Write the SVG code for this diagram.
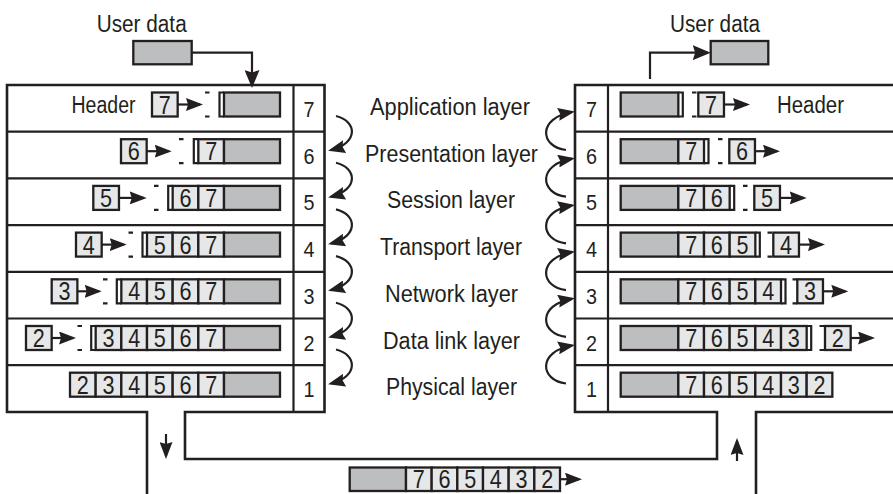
<svg xmlns="http://www.w3.org/2000/svg" width="893" height="494" viewBox="0 0 893 494">
<style>
.s{fill:none;stroke:#231f20;stroke-width:2.6}
.k{fill:none;stroke:#231f20;stroke-width:2.2}
.g{fill:#bcbec0;stroke:#231f20;stroke-width:2.3}
.l{fill:#e6e7e8;stroke:#231f20;stroke-width:2.3}
.a{fill:none;stroke:#231f20;stroke-width:2.2;marker-end:url(#ah)}
.b{fill:none;stroke:#231f20;stroke-width:2.2;marker-end:url(#ah2)}
text{font-family:"Liberation Sans",Arial,sans-serif;fill:#231f20}
.d{font-size:25px;text-anchor:middle}
.n{font-size:22.5px;text-anchor:middle}
.t{font-size:23.5px}
</style>
<defs>
<marker id="ah" viewBox="0 0 17 13" refX="14" refY="6.5" markerWidth="17" markerHeight="13" markerUnits="userSpaceOnUse" orient="auto"><path d="M0,0 L17,6.5 L0,13 L2,6.5 Z" fill="#231f20"/></marker>
<marker id="ah2" viewBox="0 0 18 15" refX="15" refY="7.5" markerWidth="18" markerHeight="15" markerUnits="userSpaceOnUse" orient="auto"><path d="M0,0 L18,7.5 L0,15 L2.5,7.5 Z" fill="#231f20"/></marker>
</defs>

<g id="frame">
<path class="s" d="M147,494 V412 H7 V85 H324.5 V412 H185 V459 H717 V412 H575 V85 H900"/>
<path class="s" d="M756,494 V412 H900"/>
<path class="k" d="M293.5,85 V412 M608,85 V412"/>
<path class="k" d="M7,131.7 H324.5 M7,178.4 H324.5 M7,225.1 H324.5 M7,271.8 H324.5 M7,318.5 H324.5 M7,365.2 H324.5"/>
<path class="k" d="M575,131.7 H900 M575,178.4 H900 M575,225.1 H900 M575,271.8 H900 M575,318.5 H900 M575,365.2 H900"/>
</g>

<g id="layer-numbers">
<text class="n" x="309" y="117" textLength="11" lengthAdjust="spacingAndGlyphs">7</text>
<text class="n" x="309" y="163.7" textLength="11" lengthAdjust="spacingAndGlyphs">6</text>
<text class="n" x="309" y="210.4" textLength="11" lengthAdjust="spacingAndGlyphs">5</text>
<text class="n" x="309" y="257.1" textLength="11" lengthAdjust="spacingAndGlyphs">4</text>
<text class="n" x="309" y="303.8" textLength="11" lengthAdjust="spacingAndGlyphs">3</text>
<text class="n" x="309" y="350.5" textLength="11" lengthAdjust="spacingAndGlyphs">2</text>
<text class="n" x="309" y="397.2" textLength="11" lengthAdjust="spacingAndGlyphs">1</text>
<text class="n" x="591.5" y="117" textLength="11" lengthAdjust="spacingAndGlyphs">7</text>
<text class="n" x="591.5" y="163.7" textLength="11" lengthAdjust="spacingAndGlyphs">6</text>
<text class="n" x="591.5" y="210.4" textLength="11" lengthAdjust="spacingAndGlyphs">5</text>
<text class="n" x="591.5" y="257.1" textLength="11" lengthAdjust="spacingAndGlyphs">4</text>
<text class="n" x="591.5" y="303.8" textLength="11" lengthAdjust="spacingAndGlyphs">3</text>
<text class="n" x="591.5" y="350.5" textLength="11" lengthAdjust="spacingAndGlyphs">2</text>
<text class="n" x="591.5" y="397.2" textLength="11" lengthAdjust="spacingAndGlyphs">1</text>
</g>

<g id="layer-labels">
<text class="t" x="370" y="115" textLength="160" lengthAdjust="spacingAndGlyphs">Application layer</text>
<text class="t" x="365" y="161.7" textLength="173" lengthAdjust="spacingAndGlyphs">Presentation layer</text>
<text class="t" x="387" y="208.4" textLength="128" lengthAdjust="spacingAndGlyphs">Session layer</text>
<text class="t" x="380" y="255.1" textLength="142" lengthAdjust="spacingAndGlyphs">Transport layer</text>
<text class="t" x="385" y="301.8" textLength="133" lengthAdjust="spacingAndGlyphs">Network layer</text>
<text class="t" x="383" y="348.5" textLength="137" lengthAdjust="spacingAndGlyphs">Data link layer</text>
<text class="t" x="386" y="395.2" textLength="131" lengthAdjust="spacingAndGlyphs">Physical layer</text>
</g>

<g id="user-data-left">
<text class="t" x="96.7" y="31.7" textLength="90" lengthAdjust="spacingAndGlyphs">User data</text>
<rect class="g" x="133.3" y="41" width="58.4" height="23.3"/>
</g>
<g id="user-data-right">
<text class="t" x="670" y="31.7" textLength="90" lengthAdjust="spacingAndGlyphs">User data</text>
<rect class="g" x="710.7" y="41" width="57.6" height="23.3"/>
</g>

<g id="left-row7">
<text class="t" x="71.5" y="113.3" textLength="64" lengthAdjust="spacingAndGlyphs">Header</text>
<rect class="l" x="152" y="92.5" width="25.67" height="24"/><text class="d" x="164.8" y="113.5" textLength="12" lengthAdjust="spacingAndGlyphs">7</text>
<path class="k" d="M205,92.5 H209.5 M205,116.5 H209.5 M224,92.5 H219.5 V116.5 H224"/>
<rect class="g" x="224" y="92.5" width="56" height="24"/>
</g>
<g id="left-row6">
<rect class="l" x="121" y="139.2" width="25.67" height="24"/><text class="d" x="133.8" y="160.2" textLength="12" lengthAdjust="spacingAndGlyphs">6</text>
<path class="k" d="M179,139.2 H183.5 M179,163.2 H183.5 M198.33,139.2 H193.8 V163.2 H198.33"/>
<rect class="l" x="198.33" y="139.2" width="25.67" height="24"/><text class="d" x="211.2" y="160.2" textLength="12" lengthAdjust="spacingAndGlyphs">7</text>
<rect class="g" x="224" y="139.2" width="56" height="24"/>
</g>
<g id="left-row5">
<rect class="l" x="93.3" y="185.9" width="25.67" height="24"/><text class="d" x="106.1" y="206.9" textLength="12" lengthAdjust="spacingAndGlyphs">5</text>
<path class="k" d="M154,185.9 H158.5 M154,209.9 H158.5 M172.67,185.9 H168.2 V209.9 H172.67"/>
<rect class="l" x="172.67" y="185.9" width="25.67" height="24"/><text class="d" x="185.5" y="206.9" textLength="12" lengthAdjust="spacingAndGlyphs">6</text>
<rect class="l" x="198.33" y="185.9" width="25.67" height="24"/><text class="d" x="211.2" y="206.9" textLength="12" lengthAdjust="spacingAndGlyphs">7</text>
<rect class="g" x="224" y="185.9" width="56" height="24"/>
</g>
<g id="left-row4">
<rect class="l" x="76" y="232.6" width="25.67" height="24"/><text class="d" x="88.8" y="253.6" textLength="12" lengthAdjust="spacingAndGlyphs">4</text>
<path class="k" d="M128.5,232.6 H133 M128.5,256.6 H133 M147,232.6 H142.5 V256.6 H147"/>
<rect class="l" x="147" y="232.6" width="25.67" height="24"/><text class="d" x="159.8" y="253.6" textLength="12" lengthAdjust="spacingAndGlyphs">5</text>
<rect class="l" x="172.67" y="232.6" width="25.67" height="24"/><text class="d" x="185.5" y="253.6" textLength="12" lengthAdjust="spacingAndGlyphs">6</text>
<rect class="l" x="198.33" y="232.6" width="25.67" height="24"/><text class="d" x="211.2" y="253.6" textLength="12" lengthAdjust="spacingAndGlyphs">7</text>
<rect class="g" x="224" y="232.6" width="56" height="24"/>
</g>
<g id="left-row3">
<rect class="l" x="51.7" y="279.3" width="25.67" height="24"/><text class="d" x="64.5" y="300.3" textLength="12" lengthAdjust="spacingAndGlyphs">3</text>
<path class="k" d="M103,279.3 H107.5 M103,303.3 H107.5 M121.33,279.3 H116.8 V303.3 H121.33"/>
<rect class="l" x="121.33" y="279.3" width="25.67" height="24"/><text class="d" x="134.2" y="300.3" textLength="12" lengthAdjust="spacingAndGlyphs">4</text>
<rect class="l" x="147" y="279.3" width="25.67" height="24"/><text class="d" x="159.8" y="300.3" textLength="12" lengthAdjust="spacingAndGlyphs">5</text>
<rect class="l" x="172.67" y="279.3" width="25.67" height="24"/><text class="d" x="185.5" y="300.3" textLength="12" lengthAdjust="spacingAndGlyphs">6</text>
<rect class="l" x="198.33" y="279.3" width="25.67" height="24"/><text class="d" x="211.2" y="300.3" textLength="12" lengthAdjust="spacingAndGlyphs">7</text>
<rect class="g" x="224" y="279.3" width="56" height="24"/>
</g>
<g id="left-row2">
<rect class="l" x="26" y="326" width="25.67" height="24"/><text class="d" x="38.8" y="347" textLength="12" lengthAdjust="spacingAndGlyphs">2</text>
<path class="k" d="M77.5,326 H82 M77.5,350 H82 M95.67,326 H91.2 V350 H95.67"/>
<rect class="l" x="95.67" y="326" width="25.67" height="24"/><text class="d" x="108.5" y="347" textLength="12" lengthAdjust="spacingAndGlyphs">3</text>
<rect class="l" x="121.33" y="326" width="25.67" height="24"/><text class="d" x="134.2" y="347" textLength="12" lengthAdjust="spacingAndGlyphs">4</text>
<rect class="l" x="147" y="326" width="25.67" height="24"/><text class="d" x="159.8" y="347" textLength="12" lengthAdjust="spacingAndGlyphs">5</text>
<rect class="l" x="172.67" y="326" width="25.67" height="24"/><text class="d" x="185.5" y="347" textLength="12" lengthAdjust="spacingAndGlyphs">6</text>
<rect class="l" x="198.33" y="326" width="25.67" height="24"/><text class="d" x="211.2" y="347" textLength="12" lengthAdjust="spacingAndGlyphs">7</text>
<rect class="g" x="224" y="326" width="56" height="24"/>
</g>
<g id="left-row1">
<rect class="l" x="70" y="372.7" width="25.67" height="24"/><text class="d" x="82.8" y="393.7" textLength="12" lengthAdjust="spacingAndGlyphs">2</text>
<rect class="l" x="95.67" y="372.7" width="25.67" height="24"/><text class="d" x="108.5" y="393.7" textLength="12" lengthAdjust="spacingAndGlyphs">3</text>
<rect class="l" x="121.33" y="372.7" width="25.67" height="24"/><text class="d" x="134.2" y="393.7" textLength="12" lengthAdjust="spacingAndGlyphs">4</text>
<rect class="l" x="147" y="372.7" width="25.67" height="24"/><text class="d" x="159.8" y="393.7" textLength="12" lengthAdjust="spacingAndGlyphs">5</text>
<rect class="l" x="172.67" y="372.7" width="25.67" height="24"/><text class="d" x="185.5" y="393.7" textLength="12" lengthAdjust="spacingAndGlyphs">6</text>
<rect class="l" x="198.33" y="372.7" width="25.67" height="24"/><text class="d" x="211.2" y="393.7" textLength="12" lengthAdjust="spacingAndGlyphs">7</text>
<rect class="g" x="224" y="372.7" width="56" height="24"/>
</g>

<g id="right-row7">
<rect class="g" x="620.7" y="92.5" width="57.63" height="24"/>
<path class="k" d="M678.33,92.5 H682.8 V116.5 H678.33 M692,92.5 H696.5 M692,116.5 H696.5"/>
<rect class="l" x="698.3" y="92.5" width="25.67" height="24"/><text class="d" x="711.1" y="113.5" textLength="12" lengthAdjust="spacingAndGlyphs">7</text>
<text class="t" x="777" y="112.5" textLength="67" lengthAdjust="spacingAndGlyphs">Header</text>
</g>
<g id="right-row6">
<rect class="g" x="620.7" y="139.2" width="57.63" height="24"/>
<rect class="l" x="678.33" y="139.2" width="25.67" height="24"/><text class="d" x="691.2" y="160.2" textLength="12" lengthAdjust="spacingAndGlyphs">7</text>
<path class="k" d="M704,139.2 H708.5 V163.2 H704 M718,139.2 H722.5 M718,163.2 H722.5"/>
<rect class="l" x="729.3" y="139.2" width="25.67" height="24"/><text class="d" x="742.1" y="160.2" textLength="12" lengthAdjust="spacingAndGlyphs">6</text>
</g>
<g id="right-row5">
<rect class="g" x="620.7" y="185.9" width="57.63" height="24"/>
<rect class="l" x="678.33" y="185.9" width="25.67" height="24"/><text class="d" x="691.2" y="206.9" textLength="12" lengthAdjust="spacingAndGlyphs">7</text>
<rect class="l" x="704" y="185.9" width="25.67" height="24"/><text class="d" x="716.8" y="206.9" textLength="12" lengthAdjust="spacingAndGlyphs">6</text>
<path class="k" d="M729.67,185.9 H734.2 V209.9 H729.67 M743,185.9 H747.5 M743,209.9 H747.5"/>
<rect class="l" x="754.3" y="185.9" width="25.67" height="24"/><text class="d" x="767.1" y="206.9" textLength="12" lengthAdjust="spacingAndGlyphs">5</text>
</g>
<g id="right-row4">
<rect class="g" x="620.7" y="232.6" width="57.63" height="24"/>
<rect class="l" x="678.33" y="232.6" width="25.67" height="24"/><text class="d" x="691.2" y="253.6" textLength="12" lengthAdjust="spacingAndGlyphs">7</text>
<rect class="l" x="704" y="232.6" width="25.67" height="24"/><text class="d" x="716.8" y="253.6" textLength="12" lengthAdjust="spacingAndGlyphs">6</text>
<rect class="l" x="729.67" y="232.6" width="25.67" height="24"/><text class="d" x="742.5" y="253.6" textLength="12" lengthAdjust="spacingAndGlyphs">5</text>
<path class="k" d="M755.33,232.6 H759.8 V256.6 H755.33 M767.5,232.6 H772 M767.5,256.6 H772"/>
<rect class="l" x="773.3" y="232.6" width="25.67" height="24"/><text class="d" x="786.1" y="253.6" textLength="12" lengthAdjust="spacingAndGlyphs">4</text>
</g>
<g id="right-row3">
<rect class="g" x="620.7" y="279.3" width="57.63" height="24"/>
<rect class="l" x="678.33" y="279.3" width="25.67" height="24"/><text class="d" x="691.2" y="300.3" textLength="12" lengthAdjust="spacingAndGlyphs">7</text>
<rect class="l" x="704" y="279.3" width="25.67" height="24"/><text class="d" x="716.8" y="300.3" textLength="12" lengthAdjust="spacingAndGlyphs">6</text>
<rect class="l" x="729.67" y="279.3" width="25.67" height="24"/><text class="d" x="742.5" y="300.3" textLength="12" lengthAdjust="spacingAndGlyphs">5</text>
<rect class="l" x="755.33" y="279.3" width="25.67" height="24"/><text class="d" x="768.2" y="300.3" textLength="12" lengthAdjust="spacingAndGlyphs">4</text>
<path class="k" d="M781,279.3 H785.5 V303.3 H781 M792.5,279.3 H797 M792.5,303.3 H797"/>
<rect class="l" x="797.3" y="279.3" width="25.67" height="24"/><text class="d" x="810.1" y="300.3" textLength="12" lengthAdjust="spacingAndGlyphs">3</text>
</g>
<g id="right-row2">
<rect class="g" x="620.7" y="326" width="57.63" height="24"/>
<rect class="l" x="678.33" y="326" width="25.67" height="24"/><text class="d" x="691.2" y="347" textLength="12" lengthAdjust="spacingAndGlyphs">7</text>
<rect class="l" x="704" y="326" width="25.67" height="24"/><text class="d" x="716.8" y="347" textLength="12" lengthAdjust="spacingAndGlyphs">6</text>
<rect class="l" x="729.67" y="326" width="25.67" height="24"/><text class="d" x="742.5" y="347" textLength="12" lengthAdjust="spacingAndGlyphs">5</text>
<rect class="l" x="755.33" y="326" width="25.67" height="24"/><text class="d" x="768.2" y="347" textLength="12" lengthAdjust="spacingAndGlyphs">4</text>
<rect class="l" x="781" y="326" width="25.67" height="24"/><text class="d" x="793.8" y="347" textLength="12" lengthAdjust="spacingAndGlyphs">3</text>
<path class="k" d="M806.67,326 H811.2 V350 H806.67 M819.5,326 H824 M819.5,350 H824"/>
<rect class="l" x="825" y="326" width="25.67" height="24"/><text class="d" x="837.8" y="347" textLength="12" lengthAdjust="spacingAndGlyphs">2</text>
</g>
<g id="right-row1">
<rect class="g" x="620.7" y="372.7" width="57.63" height="24"/>
<rect class="l" x="678.33" y="372.7" width="25.67" height="24"/><text class="d" x="691.2" y="393.7" textLength="12" lengthAdjust="spacingAndGlyphs">7</text>
<rect class="l" x="704" y="372.7" width="25.67" height="24"/><text class="d" x="716.8" y="393.7" textLength="12" lengthAdjust="spacingAndGlyphs">6</text>
<rect class="l" x="729.67" y="372.7" width="25.67" height="24"/><text class="d" x="742.5" y="393.7" textLength="12" lengthAdjust="spacingAndGlyphs">5</text>
<rect class="l" x="755.33" y="372.7" width="25.67" height="24"/><text class="d" x="768.2" y="393.7" textLength="12" lengthAdjust="spacingAndGlyphs">4</text>
<rect class="l" x="781" y="372.7" width="25.67" height="24"/><text class="d" x="793.8" y="393.7" textLength="12" lengthAdjust="spacingAndGlyphs">3</text>
<rect class="l" x="806.67" y="372.7" width="25.67" height="24"/><text class="d" x="819.5" y="393.7" textLength="12" lengthAdjust="spacingAndGlyphs">2</text>
</g>

<g id="packet">
<rect class="g" x="349.7" y="467.5" width="56.3" height="23.5"/>
<rect class="l" x="406" y="467.5" width="25.67" height="23.5"/><text class="d" x="418.8" y="488.2" textLength="12" lengthAdjust="spacingAndGlyphs">7</text>
<rect class="l" x="431.67" y="467.5" width="25.67" height="23.5"/><text class="d" x="444.5" y="488.2" textLength="12" lengthAdjust="spacingAndGlyphs">6</text>
<rect class="l" x="457.33" y="467.5" width="25.67" height="23.5"/><text class="d" x="470.2" y="488.2" textLength="12" lengthAdjust="spacingAndGlyphs">5</text>
<rect class="l" x="483" y="467.5" width="25.67" height="23.5"/><text class="d" x="495.8" y="488.2" textLength="12" lengthAdjust="spacingAndGlyphs">4</text>
<rect class="l" x="508.67" y="467.5" width="25.67" height="23.5"/><text class="d" x="521.5" y="488.2" textLength="12" lengthAdjust="spacingAndGlyphs">3</text>
<rect class="l" x="534.33" y="467.5" width="25.67" height="23.5"/><text class="d" x="547.2" y="488.2" textLength="12" lengthAdjust="spacingAndGlyphs">2</text>
</g>

<g id="connectors">
<path class="b" d="M191.7,52.7 H252 V85"/>
<path class="b" d="M650,79 V52.7 H707.7"/>
<path class="a" d="M177.7,104.5 H200"/>
<path class="a" d="M146.7,151.2 H168.7"/>
<path class="a" d="M119,197.9 H143.7"/>
<path class="a" d="M101.7,244.6 H123.7"/>
<path class="a" d="M77.3,291.3 H98.7"/>
<path class="a" d="M51.7,338 H73"/>
<path class="a" d="M724,104.5 H747"/>
<path class="a" d="M755,151.2 H777"/>
<path class="a" d="M780,197.9 H803.7"/>
<path class="a" d="M799,244.6 H822"/>
<path class="a" d="M823,291.3 H845.3"/>
<path class="a" d="M850.7,338 H872"/>
<path class="a" d="M560,479.2 H579"/>
<path class="a" d="M166,434 V456"/>
<path class="a" d="M737,461 V441"/>
<path class="a" d="M336,116 C357,121 359,143 331,150"/>
<path class="a" d="M336,162.7 C357,167.7 359,189.7 331,196.7"/>
<path class="a" d="M336,209.4 C357,214.4 359,236.4 331,243.4"/>
<path class="a" d="M336,256.1 C357,261.1 359,283.1 331,290.1"/>
<path class="a" d="M336,302.8 C357,307.8 359,329.8 331,336.8"/>
<path class="a" d="M336,349.5 C357,354.5 359,376.5 331,383.5"/>
<path class="a" d="M566,150 C540,147 537,118 572,112"/>
<path class="a" d="M566,196.7 C540,193.7 537,164.7 572,158.7"/>
<path class="a" d="M566,243.4 C540,240.4 537,211.4 572,205.4"/>
<path class="a" d="M566,290.1 C540,287.1 537,258.1 572,252.1"/>
<path class="a" d="M566,336.8 C540,333.8 537,304.8 572,298.8"/>
<path class="a" d="M566,383.5 C540,380.5 537,351.5 572,345.5"/>
</g>
</svg>
